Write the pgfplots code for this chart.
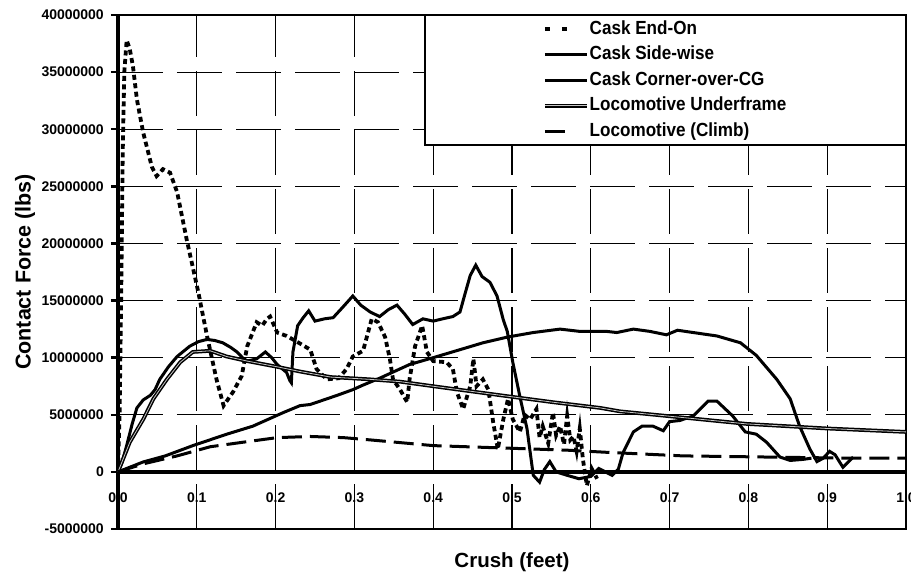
\documentclass[border=0pt]{standalone}
\usepackage{fontspec}
\setmainfont{Liberation Sans}
\newfontfamily\legfont[FakeStretch=0.9]{Liberation Sans}
\usepackage{pgfplots}
\pgfplotsset{compat=1.18}
\begin{document}
\begin{tikzpicture}
\useasboundingbox (0,0) rectangle (911pt,575pt);
\begin{axis}[
  at={(118pt,46pt)}, anchor=south west,
  width=788pt, height=514pt, scale only axis,
  xmin=0, xmax=1, ymin=-5, ymax=40,
  xtick={0,0.1,0.2,0.3,0.4,0.5,0.6,0.7,0.8,0.9,1},
  xticklabels={0.0,0.1,0.2,0.3,0.4,0.5,0.6,0.7,0.8,0.9,1.0},
  ytick={-5,0,5,10,15,20,25,30,35,40},
  yticklabels={-5000000,0,5000000,10000000,15000000,20000000,25000000,30000000,35000000,40000000},
  grid=major,
  major grid style={black, line width=1.2pt, dash pattern=on 45pt off 14pt},
  axis line style={line width=1.2pt},
  extra x ticks={0}, extra x tick labels={},
  extra x tick style={grid=major, major grid style={solid, line width=4pt}},
  extra y ticks={0}, extra y tick labels={},
  extra y tick style={grid=major, major grid style={solid, line width=4pt}},
  tick align=outside, major tick length=7pt,
  xtick style={draw=none},
  ytick style={line width=2.5pt, black},
  ytick pos=left, xtick pos=bottom,
  tick label style={font=\fontsize{14}{16}\selectfont\bfseries},
  yticklabel style={inner xsep=7pt},
  xticklabel style={anchor=center, yshift=38pt},
  xlabel={Crush (feet)},
  ylabel={Contact Force (lbs)},
  every axis x label/.style={at={(rel axis cs:0.5,0)}, anchor=center, yshift=-33pt, font=\fontsize{20.5}{24}\selectfont\bfseries},
  every axis y label/.style={at={(rel axis cs:0,0.5)}, xshift=-93pt, rotate=90, anchor=center, font=\fontsize{21.5}{24}\selectfont\bfseries},
  legend style={at={(rel axis cs:1,1)}, anchor=north east, draw=black, line width=1.2pt,
    inner xsep=118pt, inner ysep=1pt, fill=white,
    font=\legfont\fontsize{19}{22}\selectfont\bfseries, row sep=0pt,
    nodes={inner ysep=3.75pt, text height=14pt, text depth=4pt, inner xsep=1pt},
    /tikz/every even column/.append style={column sep=0pt}},
  legend cell align=left,
  legend image code/.code={\draw[#1] (0pt,0pt) -- (42pt,0pt);},
]
% Cask End-On
\addplot[black, line width=3.8pt, dash pattern=on 5pt off 3.5pt,
  legend image code/.code={\draw[black, line width=3.8pt] (0pt,0pt) -- (5pt,0pt) (17pt,0pt) -- (24pt,0pt);}] coordinates {
(0,0) (0.002,5) (0.004,15) (0.006,28) (0.008,35) (0.011,37.8) (0.015,37) (0.019,35.5)
(0.024,32.6) (0.032,29.7) (0.043,26.7) (0.049,25.9) (0.057,26.5) (0.066,26.2) (0.075,24.5)
(0.087,20.4) (0.102,15.7) (0.113,11.9) (0.125,8.1) (0.134,5.8) (0.146,7.0) (0.157,8.4)
(0.164,11.0) (0.176,13.1) (0.183,12.8) (0.189,13.4) (0.193,13.6) (0.202,12.2) (0.214,11.9)
(0.227,11.4) (0.244,10.7) (0.252,9.0) (0.265,8.1) (0.28,8.2) (0.29,9.0) (0.298,10.1)
(0.311,10.6) (0.322,13.4) (0.33,13.1) (0.339,11.8) (0.345,9.9) (0.349,8.1) (0.358,7.2)
(0.367,6.1) (0.37,8.1) (0.377,11.0) (0.386,12.8) (0.392,10.5) (0.40,9.7) (0.417,9.6)
(0.425,9.0) (0.43,7.0) (0.438,5.5) (0.447,7.5) (0.451,9.9) (0.455,7.5) (0.463,8.1)
(0.47,7.2) (0.476,4.4) (0.482,2.0) (0.489,4.6) (0.495,6.4) (0.501,4.6) (0.51,3.5)
(0.516,5.0) (0.523,4.6) (0.531,5.5) (0.535,3.0) (0.539,4.0) (0.546,2.5) (0.552,5.2)
(0.556,3.2) (0.561,4.0) (0.566,2.4) (0.57,4.9) (0.574,2.8) (0.578,3.1) (0.582,1.8)
(0.586,3.8) (0.59,1.1) (0.595,-1.2) (0.601,0.3) (0.608,-0.6)
};
\addlegendentry{Cask End-On}
% Cask Side-wise
\addplot[black, line width=3pt] coordinates {
(0,0) (0.005,0.8) (0.011,2.3) (0.018,4.2) (0.024,5.6) (0.032,6.3) (0.041,6.7) (0.047,7.2)
(0.053,8.1) (0.064,9.2) (0.075,10.1) (0.091,11.0) (0.102,11.4) (0.113,11.6) (0.123,11.5)
(0.133,11.3) (0.143,10.9) (0.151,10.5) (0.158,10.0) (0.164,9.7) (0.176,9.9) (0.187,10.5)
(0.195,10.0) (0.202,9.4) (0.214,8.7) (0.218,8.0) (0.22,7.8) (0.222,10.5) (0.228,12.8)
(0.235,13.5) (0.242,14.1) (0.25,13.2) (0.262,13.4) (0.273,13.5) (0.285,14.4) (0.298,15.4)
(0.308,14.6) (0.32,14.0) (0.332,13.6) (0.343,14.2) (0.354,14.6) (0.364,13.8) (0.374,12.9)
(0.387,13.4) (0.4,13.2) (0.412,13.4) (0.425,13.6) (0.434,14.0) (0.44,15.5) (0.447,17.2)
(0.454,18.1) (0.462,17.1) (0.472,16.6) (0.481,15.4) (0.489,13.3) (0.494,12.3) (0.501,9.6)
(0.51,6.6) (0.519,3.8) (0.527,-0.3) (0.535,-0.9) (0.541,0.2) (0.548,0.9) (0.556,0.0)
(0.57,-0.3) (0.585,-0.6) (0.6,-0.4) (0.61,0.3) (0.627,-0.3) (0.635,0.25) (0.641,1.7)
(0.654,3.5) (0.665,4.0) (0.679,4.0) (0.692,3.6) (0.70,4.4) (0.713,4.5) (0.73,4.9)
(0.749,6.2) (0.76,6.2) (0.78,4.9) (0.796,3.5) (0.81,3.3) (0.823,2.6) (0.84,1.3)
(0.853,1.0) (0.87,1.1) (0.88,1.2)
};
\addlegendentry{Cask Side-wise}
% Cask Corner-over-CG
\addplot[black, line width=3pt] coordinates {
(0,0) (0.032,0.87) (0.06,1.4) (0.095,2.3) (0.138,3.3) (0.171,4.0) (0.21,5.2) (0.231,5.8)
(0.244,5.9) (0.278,6.7) (0.298,7.2) (0.311,7.6) (0.332,8.2) (0.37,9.4) (0.40,10.0)
(0.434,10.7) (0.463,11.3) (0.494,11.8) (0.527,12.2) (0.561,12.5) (0.586,12.3) (0.62,12.3)
(0.633,12.2) (0.654,12.5) (0.675,12.3) (0.696,12.0) (0.71,12.4) (0.73,12.2) (0.76,11.9)
(0.79,11.3) (0.81,10.2) (0.836,8.1) (0.853,6.4) (0.865,4.0) (0.878,2.0) (0.887,0.9)
(0.895,1.2) (0.903,1.8) (0.91,1.5) (0.92,0.4) (0.933,1.3)
};
\addlegendentry{Cask Corner-over-CG}
% Locomotive Underframe
\addplot[black, line width=1.5pt, double=gray!45, double distance=0.8pt] coordinates {
(0,0) (0.015,2.6) (0.032,4.6) (0.045,6.4) (0.062,8.1) (0.079,9.6) (0.095,10.5) (0.117,10.6)
(0.138,10.1) (0.164,9.7) (0.202,9.2) (0.23,8.8) (0.27,8.3) (0.32,8.1) (0.358,7.9)
(0.40,7.5) (0.443,7.1) (0.497,6.6) (0.552,6.1) (0.612,5.6) (0.637,5.3) (0.696,4.9)
(0.798,4.2) (0.9,3.8) (1.0,3.5)
};
\addlegendentry{Locomotive Underframe}
% Locomotive (Climb)
\addplot[black, line width=3pt, dash pattern=on 20pt off 8pt,
  legend image code/.code={\draw[black, line width=3.5pt] (0pt,0pt) -- (24pt,0pt);}] coordinates {
(0,0) (0.032,0.7) (0.075,1.4) (0.117,2.2) (0.159,2.6) (0.202,3.0) (0.244,3.1) (0.286,3.0)
(0.32,2.8) (0.4,2.3) (0.485,2.1) (0.57,1.9) (0.624,1.7) (0.717,1.4) (0.823,1.3)
(0.929,1.2) (1.0,1.2)
};
\addlegendentry{Locomotive (Climb)}
\end{axis}
\end{tikzpicture}
\end{document}
